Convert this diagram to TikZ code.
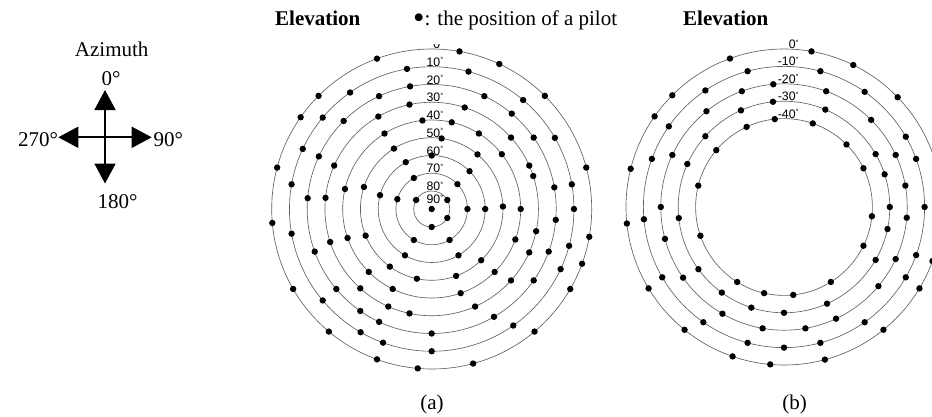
\documentclass[tikz,border=0pt]{standalone}
\usepackage{fontspec}
\usepackage{graphicx}
\setmainfont{Liberation Serif}
\newfontfamily\ringfont{Liberation Sans}
\usetikzlibrary{arrows.meta}
\newcommand\dg{\raisebox{3.4pt}{\fontsize{7.5}{7.5}\selectfont °}}
\newcommand\bigbul{\raisebox{-3.6pt}{\scalebox{1.55}{•}}}
\tikzset{
  txt/.style={inner sep=0pt, font=\fontsize{21}{25}\selectfont},
  ttl/.style={inner sep=0pt, anchor=base west, font=\fontsize{21}{25}\selectfont\bfseries},
  ringlab/.style={inner sep=0pt, anchor=base east, font=\ringfont\fontsize{12.3}{13}\selectfont},
  ring/.style={draw=black!62, line width=0.65pt},
  azarrow/.style={line width=1.7pt, -{Triangle[length=20pt,width=21pt]}},
}
\begin{document}
\begin{tikzpicture}[x=1pt,y=-1pt]
\fill[white] (0,0) rectangle (932,416);
\clip (0,0) rectangle (932,416);

% ---------- compass ----------
\coordinate (o) at (105,137.3);
\coordinate (n) at (105,90);
\coordinate (s) at (105,183.5);
\coordinate (w) at (58.3,137.3);
\coordinate (e) at (151.7,137.3);
\draw[azarrow] (o) -- (n);
\draw[azarrow] (o) -- (s);
\draw[azarrow] (o) -- (w);
\draw[azarrow] (o) -- (e);
\node[txt, anchor=base] (az) at (111.7,56.7) {Azimuth};
\node[txt, anchor=base] (az0) at (111,85) {0°};
\node[txt, anchor=base east] (az270) at (58.3,146.7) {270°};
\node[txt, anchor=base west] (az90) at (153.3,146.7) {90°};
\node[txt, anchor=base] (az180) at (117.5,208.3) {180°};

% ---------- titles ----------
\node[ttl] (ela) at (275,25) {Elevation};
\node[txt, anchor=base west] (legend) at (413,25) {\bigbul: the position of a pilot};
\node[ttl] (elb) at (683,25) {Elevation};

% ---------- diagram (a) ----------
\coordinate (ca) at (431.7,209);
\foreach \k in {0,...,8}
  \draw[ring] (ca) circle ({160-17.75*\k});
\foreach \k/\angs in {
  0/{15,45,65,80,110,135,145,165,185,210,230,250,265,285,310,330,340,350},
  1/{0,10,30,50,75,100,125,140,155,170,190,220,240,250,270,305,335,345},
  2/{10,35,50,65,100,115,135,155,175,200,220,235,245,270,300,325,340,355},
  3/{18,24,42,72,102,120,156,174,198,228,246,258,294,318,336,348},
  4/{0,38,58,77,96,122,167,199,225,244,289,315,340},
  5/{2,50,82,122,162,202,234,258,290,314},
  6/{0,45,90,119,165,240,300},
  7/{0,44,120,164,240,300},
  8/{30,150,270,330}}
{
  \foreach \a in \angs
    \fill ({431.7+(160-17.75*\k)*cos(\a)},{209-(160-17.75*\k)*sin(\a)}) circle (3.2);
}
\fill (ca) circle (3.2);
\begin{scope}
  \clip (0,44) rectangle (932,416);
  \foreach \k/\t in {0/0,1/10,2/20,3/30,4/40,5/50,6/60,7/70,8/80}
    \node[ringlab] (la\k) at (443.5,{208.5-(160-17.75*\k)}) {\t\dg};
\end{scope}
\node[ringlab] (la9) at (443.5,203.5) {90\dg};
\node[txt, anchor=base] (capa) at (432,409) {(a)};

% ---------- diagram (b) ----------
\coordinate (cb) at (784,207);
\foreach \k in {0,...,4}
  \draw[ring] (cb) circle ({158-17.4*\k});
\foreach \k/\angs in {
  0/{44,64,80,110,135,145,166,186,211,231,251,265,285,309,329,340},
  1/{0,20,30,55,75,105,124,145,160,185,210,235,255,270,285,305,330,340},
  2/{10,25,45,70,95,110,129,155,180,195,215,240,260,280,295,320,335,355},
  3/{0,18,30,67,96,114,138,156,186,216,234,252,270,294,330,348},
  4/{26,45,71,96,115,140,166,199,238,257,276,302,334,354}}
{
  \foreach \a in \angs
    \fill ({784+(158-17.4*\k)*cos(\a)},{207-(158-17.4*\k)*sin(\a)}) circle (3.2);
}
\foreach \k/\t in {0/0,1/-10,2/-20,3/-30,4/-40}
  \node[ringlab] (lb\k) at (798.8,{206.5-(158-17.4*\k)}) {\t\dg};
\node[txt, anchor=base] (capb) at (794.5,409) {(b)};
\end{tikzpicture}
\end{document}
